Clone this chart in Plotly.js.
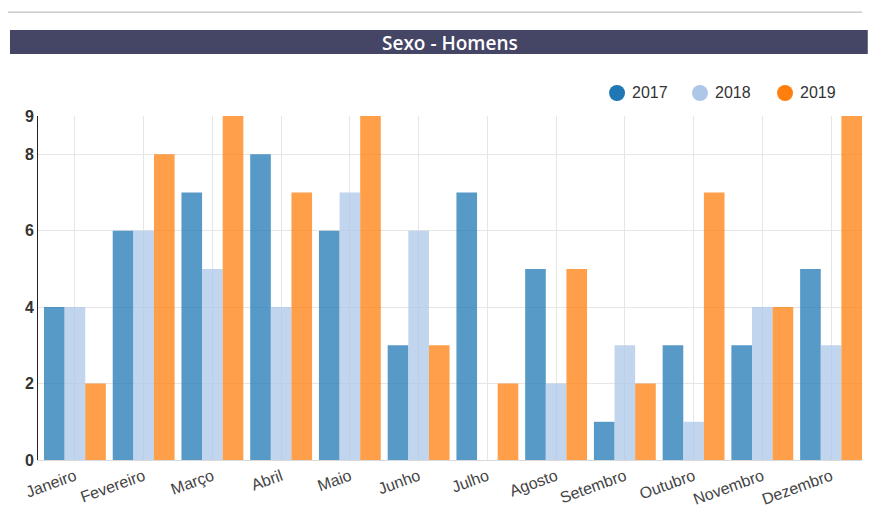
<!DOCTYPE html>
<html><head><meta charset="utf-8">
<script src="https://cdn.plot.ly/plotly-3.0.1.min.js"></script>
<style>html,body{margin:0;padding:0;background:#fff}#chart{width:870px;height:510px}</style>
</head><body><div id="chart"></div>
<script>
const meses = ["Janeiro","Fevereiro","Março","Abril","Maio","Junho","Julho","Agosto","Setembro","Outubro","Novembro","Dezembro"];
const anos = ["2017","2018","2019"];
const v2017 = [4,6,7,8,6,3,7,5,1,3,3,5];
const v2018 = [4,6,5,4,7,6,0,2,3,1,4,3];
const v2019 = [2,8,9,7,9,3,2,5,2,7,4,9];
const cores = ["#1f77b4","#aec7e8","#ff7f0e"];
const series = [v2017, v2018, v2019];

const traces = series.map((vals, i) => ({
  type:"bar", x:meses, y:vals, name:anos[i],
  marker:{color:cores[i], opacity:0.75}, showlegend:false
}));

// legend drawn as circles + labels in paper coordinates
const legX = [0.7027, 0.8034, 0.9066];
const shapes = [
  {type:"line", xref:"paper", yref:"paper", x0:-0.0364, x1:1.0, y0:1.302, y1:1.302, line:{color:"#b0b0b0", width:1}},
  {type:"rect", xref:"paper", yref:"paper", x0:-0.034, x1:1.007, y0:1.180, y1:1.250, fillcolor:"#454566", line:{width:0}, layer:"above"}
];
const annotations = [
  {xref:"paper", yref:"paper", x:0.5, y:1.213, text:"Sexo - Homens", showarrow:false, xanchor:"center", yanchor:"middle",
   font:{family:"Open Sans, sans-serif", size:19, color:"#fff", weight:600}}
];
anos.forEach((a, i) => {
  shapes.push({type:"circle", xref:"paper", yref:"paper", x0:legX[i]-0.0097, x1:legX[i]+0.0097, y0:1.0436, y1:1.0901,
    fillcolor:cores[i], line:{width:0}});
  annotations.push({xref:"paper", yref:"paper", x:legX[i]+0.0155, y:1.067, text:a, showarrow:false, xanchor:"left", yanchor:"middle",
    font:{size:16, color:"#333"}});
});

const layout = {
  width:870, height:510,
  margin:{l:38, r:8, t:116, b:50},
  paper_bgcolor:"#fff", plot_bgcolor:"#fff",
  font:{family:"Liberation Sans, Arial, sans-serif", color:"#333", size:14},
  barmode:"group", bargap:0.1, bargroupgap:0,
  showlegend:false,
  xaxis:{type:"category", range:[-0.537, 11.45], tickangle:-20, showgrid:true, gridcolor:"#e6e6e6", showline:true, linecolor:"#d9d9d9",
    ticks:"", tickfont:{size:16, color:"#444"}, fixedrange:true, automargin:false},
  yaxis:{range:[0,9], tickvals:[0,2,4,6,8,9], ticktext:["0","2","4","6","8","9"], showgrid:true, gridcolor:"#e6e6e6", zeroline:false,
    showline:true, linecolor:"#222", linewidth:1, ticks:"", tickfont:{size:16, color:"#333", weight:"bold"}, fixedrange:true, automargin:false},
  shapes:shapes,
  annotations:annotations
};
Plotly.newPlot("chart", traces, layout, {displayModeBar:false, staticPlot:true});
</script></body></html>
